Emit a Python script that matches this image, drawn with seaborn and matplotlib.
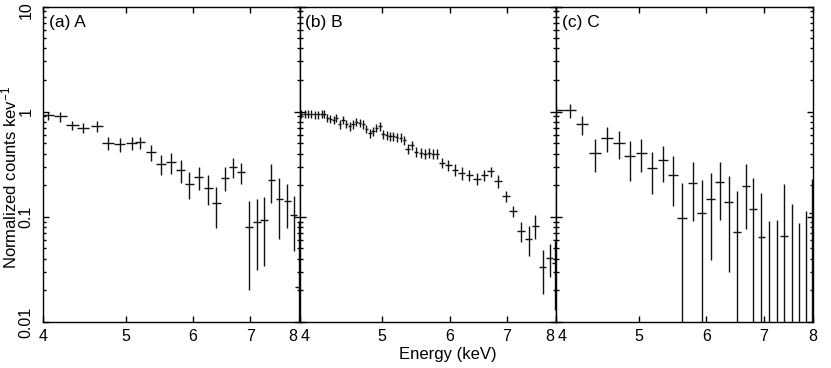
import numpy as np
import pandas as pd
import matplotlib
matplotlib.use("Agg")
import matplotlib.pyplot as plt
import matplotlib.transforms as mtransforms
import seaborn as sns
from matplotlib.ticker import FixedLocator, FixedFormatter, NullLocator, LogLocator, NullFormatter

# ---------------- data ----------------
panel_names = ["(a) A", "(b) B", "(c) C"]

energy_a = [4.05, 4.19, 4.33, 4.46, 4.63, 4.77, 4.92, 5.08, 5.20, 5.36, 5.50, 5.65, 5.80, 5.94,
            6.09, 6.25, 6.39, 6.54, 6.68, 6.83, 6.98, 7.13, 7.27, 7.41, 7.57, 7.74, 7.87, 7.98]
counts_a = [0.92, 0.90, 0.74, 0.70, 0.73, 0.50, 0.49, 0.50, 0.51, 0.41, 0.32, 0.33, 0.28, 0.207,
            0.24, 0.19, 0.135, 0.235, 0.30, 0.265, 0.080, 0.089, 0.094, 0.226, 0.149, 0.142, 0.103, 0.0216]
yerr_a = [0.08, 0.10, 0.068, 0.072, 0.085, 0.07, 0.075, 0.07, 0.065, 0.073, 0.07, 0.072, 0.068, 0.06,
          0.06, 0.06, 0.057, 0.06, 0.065, 0.06, 0.06, 0.058, 0.06, 0.09, 0.087, 0.064, 0.056, 0.07]
xerr_a = 0.073

energy_b = [4.018, 4.054, 4.091, 4.129, 4.166, 4.204, 4.243, 4.272, 4.311, 4.346, 4.385, 4.417,
            4.457, 4.497, 4.539, 4.579, 4.620, 4.663, 4.705, 4.747, 4.791, 4.834, 4.877, 4.922,
            4.967, 5.011, 5.058, 5.103, 5.149, 5.196, 5.257, 5.304, 5.353, 5.411, 5.475, 5.545,
            5.610, 5.676, 5.738, 5.791, 5.871, 5.977, 6.086, 6.197, 6.326, 6.455, 6.584, 6.704,
            6.838, 6.982, 7.117, 7.272, 7.424, 7.560, 7.710, 7.857, 7.975]
counts_b = [0.95, 0.96, 0.95, 0.95, 0.94, 0.94, 0.95, 0.96, 0.877, 0.858, 0.84, 0.877,
            0.757, 0.84, 0.77, 0.725, 0.757, 0.797, 0.78, 0.757, 0.69, 0.626, 0.654, 0.70,
            0.725, 0.609, 0.596, 0.583, 0.583, 0.574, 0.566, 0.534, 0.445, 0.478, 0.414, 0.405,
            0.40, 0.405, 0.40, 0.40, 0.325, 0.31, 0.28, 0.26, 0.25, 0.23, 0.25, 0.27,
            0.22, 0.157, 0.114, 0.074, 0.062, 0.082, 0.0334, 0.041, 0.036]
yerr_b = [0.08, 0.08, 0.08, 0.08, 0.08, 0.08, 0.08, 0.08, 0.075, 0.075, 0.075, 0.075,
          0.07, 0.07, 0.07, 0.07, 0.07, 0.07, 0.07, 0.07, 0.065, 0.065, 0.065, 0.065,
          0.065, 0.055, 0.055, 0.055, 0.055, 0.055, 0.055, 0.055, 0.045, 0.045, 0.045, 0.045,
          0.045, 0.045, 0.045, 0.045, 0.035, 0.035, 0.035, 0.035, 0.03, 0.03, 0.03, 0.03,
          0.03, 0.018, 0.014, 0.016, 0.02, 0.021, 0.015, 0.014, 0.023]
xerr_b = [0.018, 0.018, 0.018, 0.018, 0.018, 0.018, 0.018, 0.018, 0.02, 0.02, 0.02, 0.02,
          0.02, 0.02, 0.02, 0.02, 0.02, 0.02, 0.02, 0.02, 0.023, 0.023, 0.023, 0.023,
          0.023, 0.023, 0.023, 0.023, 0.023, 0.023, 0.023, 0.023, 0.03, 0.03, 0.03, 0.03,
          0.03, 0.03, 0.03, 0.03, 0.05, 0.054, 0.055, 0.06, 0.064, 0.064, 0.062, 0.065,
          0.07, 0.072, 0.072, 0.072, 0.072, 0.072, 0.072, 0.072, 0.072]

energy_c = [4.00, 4.15, 4.29, 4.44, 4.59, 4.74, 4.88, 5.03, 5.18, 5.34, 5.48, 5.62, 5.78, 5.92,
            6.07, 6.22, 6.37, 6.52, 6.67, 6.81, 6.96, 7.11, 7.26, 7.40, 7.55, 7.70, 7.86, 7.98]
counts_c = [1.03, 1.03, 0.757, 0.405, 0.566, 0.503, 0.376, 0.405, 0.291, 0.345, 0.252, 0.098, 0.212, 0.109,
            0.149, 0.214, 0.137, 0.071, 0.196, 0.118, 0.065, 0.004, 0.003, 0.066, 0.003, 0.002, 0.005, 0.109]
yerr_c = [0.11, 0.16, 0.16, 0.14, 0.155, 0.15, 0.155, 0.14, 0.125, 0.13, 0.124, 0.112, 0.12, 0.117,
          0.11, 0.12, 0.107, 0.105, 0.12, 0.118, 0.104, 0.087, 0.09, 0.14, 0.129, 0.086, 0.109, 0.12]
xerr_c = 0.073

x_ticks = [4, 5, 6, 7, 8]
x_tick_labels = ["4", "5", "6", "7", "8"]
y_ticks = [0.01, 0.1, 1, 10]
y_tick_labels = ["0.01", "0.1", "1", "10"]

# ---------------- build table ----------------
frames = []
for name, e, c, xe, ye in [(panel_names[0], energy_a, counts_a, xerr_a, yerr_a),
                           (panel_names[1], energy_b, counts_b, xerr_b, yerr_b),
                           (panel_names[2], energy_c, counts_c, xerr_c, yerr_c)]:
    frames.append(pd.DataFrame({"panel": name, "energy": e, "counts": c,
                                "xerr": xe, "yerr": ye}))
df = pd.concat(frames, ignore_index=True)

sns.set_theme(style="ticks")
plt.rcParams["font.family"] = ["Liberation Sans", "DejaVu Sans"]
plt.rcParams["mathtext.default"] = "regular"
plt.rcParams["axes.edgecolor"] = "black"
plt.rcParams["axes.linewidth"] = 1.0

g = sns.FacetGrid(df, col="panel", col_order=panel_names, sharex=False, sharey=True,
                  despine=False, height=3.68, aspect=0.75)


def draw(data, **kws):
    ax = plt.gca()
    ax.errorbar(data["energy"], data["counts"], xerr=data["xerr"], yerr=data["yerr"],
                fmt="none", ecolor="#111111", elinewidth=1.0, capsize=0)


g.map_dataframe(draw)
g.set_titles("")
g.set_axis_labels("", "")

fig = g.figure
fig.set_size_inches(8.31, 3.68)
fig.subplots_adjust(left=43 / 831, right=813 / 831, bottom=1 - 322 / 368, top=1 - 6.5 / 368, wspace=0)

axes = list(g.axes.flat)
for i, ax in enumerate(axes):
    ax.set_xscale("log")
    ax.set_yscale("log", nonpositive="clip")
    ax.set_xlim(4, 8)
    ax.set_ylim(0.01, 10)
    ax.xaxis.set_major_locator(FixedLocator(x_ticks))
    ax.xaxis.set_major_formatter(FixedFormatter(x_tick_labels))
    ax.xaxis.set_minor_locator(NullLocator())
    ax.yaxis.set_major_locator(FixedLocator(y_ticks))
    ax.yaxis.set_major_formatter(FixedFormatter(y_tick_labels))
    ax.yaxis.set_minor_locator(LogLocator(base=10, subs=np.arange(2, 10)))
    ax.yaxis.set_minor_formatter(NullFormatter())
    ax.tick_params(which="both", direction="in", top=True, bottom=True, left=True, right=True,
                   color="black", width=1.0, labelsize=11.5, labelcolor="black")
    ax.tick_params(which="major", length=4)
    ax.tick_params(which="minor", length=2.3)
    ax.tick_params(axis="x", pad=5)
    for sp in ax.spines.values():
        sp.set_color("black")
        sp.set_linewidth(1.0)
    ax.text(0.022, 0.972, panel_names[i], transform=ax.transAxes, ha="left", va="top",
            fontsize=12.5, color="black")
    labels = ax.get_xticklabels()
    if i > 0:
        labels[0].set_ha("left")
        labels[0].set_transform(labels[0].get_transform()
                                + mtransforms.ScaledTranslation(1 / 100, 0, fig.dpi_scale_trans))
    if i < 2:
        labels[-1].set_ha("right")
        labels[-1].set_transform(labels[-1].get_transform()
                                 + mtransforms.ScaledTranslation(-2 / 100, 0, fig.dpi_scale_trans))
    if i == 0:
        ax.tick_params(axis="y", labelrotation=90, pad=7, labelleft=True)
        ylabs = ax.get_yticklabels()
        for lab in ylabs:
            lab.set_va("center")
        # keep the top label ("10") inside the figure
        ylabs[-1].set_transform(ylabs[-1].get_transform()
                                + mtransforms.ScaledTranslation(0, -3.5 / 100, fig.dpi_scale_trans))
    else:
        ax.tick_params(axis="y", labelleft=False)

fig.text(9 / 831, 1 - 177 / 368, "Normalized counts kev$^{-1}$", rotation=90,
         ha="center", va="center", fontsize=12, color="black")
fig.text(447.5 / 831, 1 - 355 / 368, "Energy (keV)", ha="center", va="center",
         fontsize=12, color="black")

fig.savefig("out.png", dpi=100)
